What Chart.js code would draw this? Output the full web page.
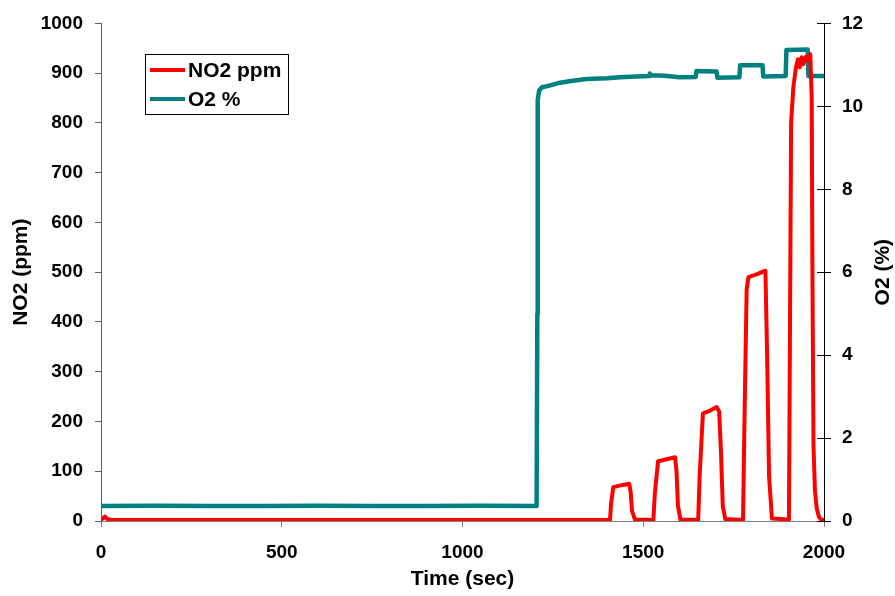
<!DOCTYPE html>
<html>
<head>
<meta charset="utf-8">
<script src="https://cdn.jsdelivr.net/npm/chart.js@4"></script>
<style>
  html, body { margin: 0; padding: 0; background: #fff; }
</style>
</head>
<body>
<canvas id="myChart" width="895" height="596"></canvas>
<script>
const ctx = document.getElementById('myChart')

// NO2 trace (seconds, ppm)
const no2Time = [0, 5, 11, 17, 30, 200, 400, 600, 800, 1000, 1200,
  1408, 1411, 1417, 1440, 1461, 1465, 1469, 1477,
  1528, 1532, 1541, 1565, 1588, 1592, 1596, 1603,
  1652, 1656, 1665, 1685, 1703, 1710, 1715, 1720, 1727,
  1776, 1780, 1786, 1791, 1815, 1838, 1843, 1848, 1856,
  1903, 1906, 1909, 1915, 1922, 1928, 1933, 1938, 1943, 1950, 1957, 1962, 1966, 1968, 1971, 1975, 1980, 1986, 1992, 2000]
const no2Value = [3, 5, 9, 4, 2, 2, 2, 2, 2, 2, 2,
  2, 35, 68, 72, 75, 60, 20, 3,
  2, 55, 120, 124, 128, 100, 30, 3,
  2, 90, 216, 222, 229, 220, 140, 30, 4,
  2, 200, 465, 490, 496, 503, 320, 90, 5,
  3, 400, 800, 870, 910, 928, 912, 932, 918, 933, 925, 938, 850, 500, 150, 60, 25, 8, 3, 2]

// O2 trace (seconds, %)
const o2Time = [0, 150, 300, 450, 600, 750, 900, 1050, 1205, 1207, 1208, 1212, 1220, 1240, 1270, 1300, 1343, 1400, 1436, 1480,
  1516, 1518, 1521, 1560, 1600, 1645, 1647, 1703, 1705, 1766, 1768, 1830, 1832, 1894, 1896, 1955, 1957, 2000]
const o2Value = [0.36, 0.37, 0.36, 0.36, 0.37, 0.36, 0.36, 0.37, 0.36, 5.0, 10.15, 10.38, 10.46, 10.5, 10.57, 10.61, 10.66, 10.68, 10.7, 10.72,
  10.73, 10.79, 10.75, 10.74, 10.7, 10.71, 10.85, 10.84, 10.69, 10.7, 10.99, 10.99, 10.72, 10.73, 11.36, 11.37, 10.73, 10.73]

const seriesNames = ['NO2 ppm', 'O2 %']
const xTitle = 'Time (sec)'
const yTitle = 'NO2 (ppm)'
const y1Title = 'O2 (%)'

const FONT = '"Liberation Sans", Arial, sans-serif'
Chart.defaults.font.family = FONT
Chart.defaults.color = '#000'

const toPoints = (xs, ys) => xs.map((x, i) => ({ x: x, y: ys[i] }))
const plain = (v) => String(v)

// legend box, right-axis title and the inner half of the right ticks
const extras = {
  id: 'extras',
  afterDraw(chart) {
    const c = chart.ctx
    const y1 = chart.scales.y1
    const area = chart.chartArea
    c.save()
    c.strokeStyle = '#000'
    c.lineWidth = 1
    y1.ticks.forEach(t => {
      const py = Math.round(y1.getPixelForValue(t.value)) + 0.5
      c.beginPath()
      c.moveTo(area.right - 7, py)
      c.lineTo(area.right, py)
      c.stroke()
    })

    c.save()
    c.translate(883, (area.top + area.bottom) / 2)
    c.rotate(-Math.PI / 2)
    c.font = 'bold 21px ' + FONT
    c.textAlign = 'center'
    c.textBaseline = 'middle'
    c.fillStyle = '#000'
    c.fillText(y1Title, 0, 0)
    c.restore()

    // legend
    c.fillStyle = '#fff'
    c.fillRect(145.5, 54.5, 143, 60)
    c.strokeStyle = '#000'
    c.strokeRect(145.5, 54.5, 143, 60)
    c.font = 'bold 21px ' + FONT
    c.textAlign = 'left'
    c.textBaseline = 'middle'
    chart.data.datasets.forEach((ds, i) => {
      const ly = 70 + i * 29
      c.strokeStyle = ds.borderColor
      c.lineWidth = 4
      c.beginPath()
      c.moveTo(150, ly)
      c.lineTo(185, ly)
      c.stroke()
      c.fillStyle = '#000'
      c.fillText(ds.label, 188, ly + 1)
    })
    c.restore()
  }
}

new Chart(ctx, {
  type: 'line',
  data: {
    datasets: [
      {
        label: seriesNames[0],
        data: toPoints(no2Time, no2Value),
        yAxisID: 'y',
        borderColor: '#FF0000',
        backgroundColor: '#FF0000',
        borderWidth: 4,
        borderJoinStyle: 'round',
        borderCapStyle: 'round',
        pointRadius: 0,
        tension: 0,
        fill: false,
      },
      {
        label: seriesNames[1],
        data: toPoints(o2Time, o2Value),
        yAxisID: 'y1',
        borderColor: '#008080',
        backgroundColor: '#008080',
        borderWidth: 4.5,
        borderJoinStyle: 'round',
        borderCapStyle: 'round',
        pointRadius: 0,
        tension: 0,
        fill: false,
      },
    ],
  },
  options: {
    responsive: false,
    animation: false,
    layout: { padding: { top: 19, left: 0, right: 0, bottom: 0 } },
    plugins: { legend: { display: false }, tooltip: { enabled: false } },
    scales: {
      x: {
        type: 'linear',
        min: 0,
        max: 2000,
        afterFit(s) { s.height = 75 },
        ticks: { stepSize: 500, padding: 14, font: { size: 19, weight: 'bold' }, maxRotation: 0, callback: plain },
        grid: { drawOnChartArea: false, tickLength: 6, color: '#808080' },
        border: { color: '#808080' },
        title: { display: true, text: xTitle, font: { size: 21, weight: 'bold' }, padding: { bottom: 4, top: 0 } },
      },
      y: {
        position: 'left',
        min: 0,
        max: 1000,
        afterFit(s) { s.width = 101 },
        ticks: { stepSize: 100, padding: 12, font: { size: 19, weight: 'bold' }, callback: plain },
        grid: { drawOnChartArea: false, tickLength: 6, color: '#606060' },
        border: { color: '#606060' },
        title: { display: true, text: yTitle, font: { size: 21, weight: 'bold' }, padding: { top: 9, bottom: 0 } },
      },
      y1: {
        position: 'right',
        min: 0,
        max: 12,
        afterFit(s) { s.width = 71 },
        ticks: { stepSize: 2, padding: 11, font: { size: 19, weight: 'bold' }, callback: plain },
        grid: { drawOnChartArea: false, tickLength: 7, color: '#000' },
        border: { color: '#000' },
      },
    },
  },
  plugins: [extras],
})
</script>
</body>
</html>
